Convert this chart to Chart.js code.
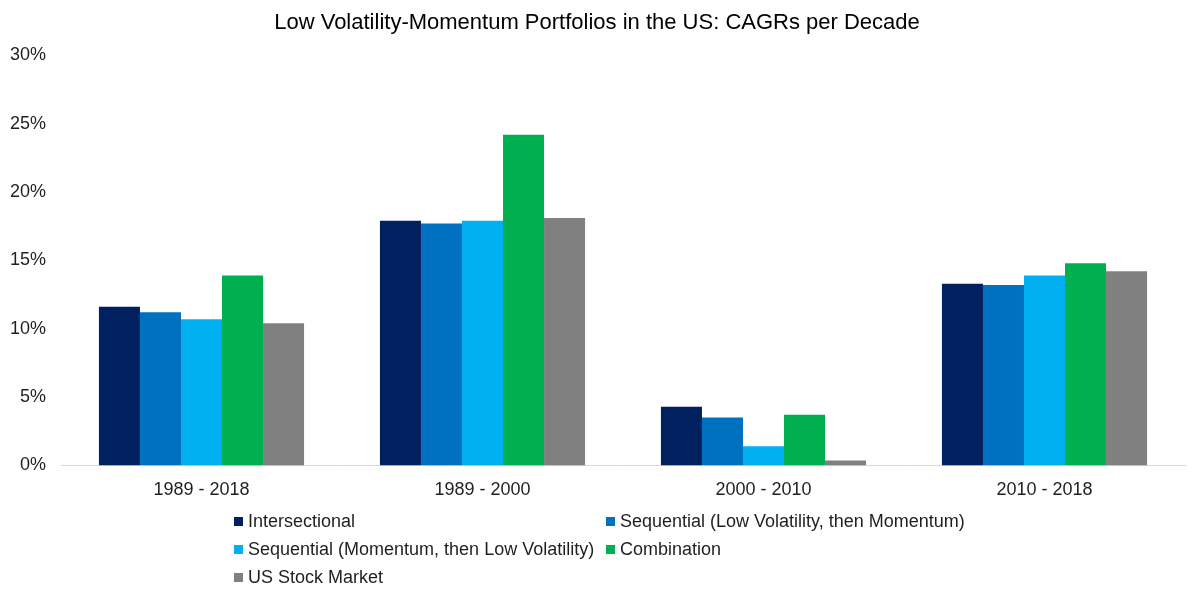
<!DOCTYPE html>
<html>
<head>
<meta charset="utf-8">
<script src="https://cdn.jsdelivr.net/npm/chart.js@4/dist/chart.umd.min.js"></script>
<style>
  html, body { margin: 0; padding: 0; background: #ffffff; }
  #wrap { position: relative; width: 1200px; height: 599px; overflow: hidden; }
  #c { position: absolute; left: 0; top: 0; }
  #legend { position: absolute; left: 0; top: 0; width: 1200px; height: 599px; pointer-events: none;
            font-family: "Liberation Sans", Arial, sans-serif; font-size: 18px; color: #1f1f1f; }
  .li { position: absolute; white-space: nowrap; line-height: 20px; height: 20px; }
  .li .box { display: inline-block; width: 9px; height: 9px; margin-right: 5px; vertical-align: 1px; }
</style>
</head>
<body>
<div id="wrap">
  <canvas id="c" width="1200" height="599"></canvas>
  <div id="legend"></div>
</div>
<script>
// ---- Data ----
const categories = ['1989 - 2018', '1989 - 2000', '2000 - 2010', '2010 - 2018'];
const seriesNames = [
  'Intersectional',
  'Sequential (Low Volatility, then Momentum)',
  'Sequential (Momentum, then Low Volatility)',
  'Combination',
  'US Stock Market'
];
const intersectional = [11.6, 17.9, 4.3, 13.3];
const seqLowVolThenMom = [11.2, 17.7, 3.5, 13.2];
const seqMomThenLowVol = [10.7, 17.9, 1.4, 13.9];
const combination = [13.9, 24.2, 3.7, 14.8];
const usStockMarket = [10.4, 18.1, 0.35, 14.2];
const seriesColors = ['#002060', '#0070C0', '#00B0F0', '#00B050', '#808080'];
const yMin = 0, yMax = 30, yStep = 5;
const titleText = 'Low Volatility-Momentum Portfolios in the US: CAGRs per Decade';

const seriesValues = [intersectional, seqLowVolThenMom, seqMomThenLowVol, combination, usStockMarket];

const FONT = '"Liberation Sans", Arial, sans-serif';
const TEXT = '#1f1f1f';

const chart = new Chart(document.getElementById('c'), {
  type: 'bar',
  data: {
    labels: categories,
    datasets: seriesNames.map((name, i) => ({
      label: name,
      data: seriesValues[i],
      backgroundColor: seriesColors[i],
      borderWidth: 0,
      categoryPercentage: 0.73,
      barPercentage: 1.0
    }))
  },
  options: {
    responsive: false,
    animation: false,
    devicePixelRatio: 1,
    layout: { padding: { left: 9, right: 15, top: 0, bottom: 84 } },
    plugins: {
      legend: { display: false },
      tooltip: { enabled: false },
      title: {
        display: true,
        text: titleText,
        color: '#000000',
        font: { family: FONT, size: 22, weight: 'normal' },
        padding: { top: 10, bottom: 19 }
      }
    },
    scales: {
      x: {
        grid: { display: false, drawTicks: false },
        border: { display: true, color: '#D9D9D9', width: 1 },
        ticks: { color: TEXT, font: { family: FONT, size: 18 }, padding: 14, maxRotation: 0 }
      },
      y: {
        min: yMin,
        max: yMax,
        grid: { display: false, drawTicks: false },
        border: { display: false },
        ticks: {
          stepSize: yStep,
          color: TEXT,
          font: { family: FONT, size: 18 },
          padding: 15,
          callback: v => v + '%'
        },
        afterFit: s => { s.width = 52; }
      }
    }
  }
});

// ---- HTML legend (Excel-like two-column grid) ----
const legend = document.getElementById('legend');
const colX = [234, 606];
const rowY = [511, 538.5, 567];
seriesNames.forEach((name, i) => {
  const div = document.createElement('div');
  div.className = 'li';
  div.style.left = colX[i % 2] + 'px';
  div.style.top = rowY[Math.floor(i / 2)] + 'px';
  const box = document.createElement('span');
  box.className = 'box';
  box.style.background = seriesColors[i];
  div.appendChild(box);
  div.appendChild(document.createTextNode(name));
  legend.appendChild(div);
});
</script>
</body>
</html>
